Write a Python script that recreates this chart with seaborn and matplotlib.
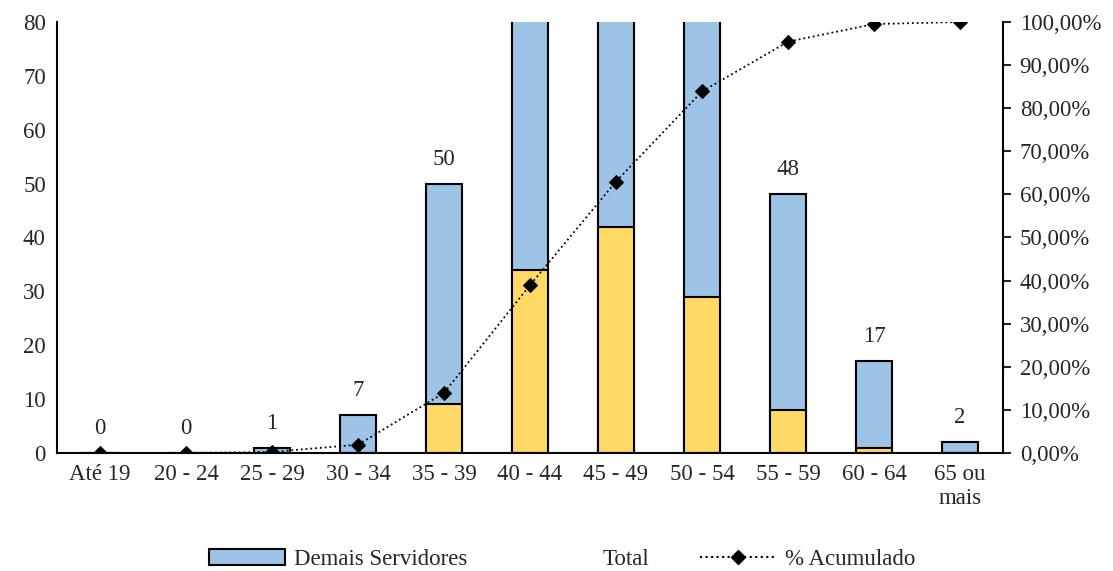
import numpy as np
import pandas as pd
import seaborn as sns
import matplotlib.pyplot as plt
from matplotlib.patches import Patch
from matplotlib.lines import Line2D
from matplotlib.ticker import FuncFormatter

# Dados
faixas = ['Até 19', '20 - 24', '25 - 29', '30 - 34', '35 - 39', '40 - 44',
          '45 - 49', '50 - 54', '55 - 59', '60 - 64', '65 ou\nmais']
total = [0, 0, 1, 7, 50, 104, 100, 87, 48, 17, 2]
amarelo = [0, 0, 0, 0, 9, 34, 42, 29, 8, 1, 0]
acumulado = [0.0, 0.0, 0.0024, 0.0192, 0.1394, 0.3894, 0.6298, 0.8389, 0.9543, 0.9952, 1.0]

cor_azul = '#9DC3E6'
cor_amarelo = '#FFD966'
fs = 16.5

sns.set_style('white')
plt.rcParams['font.family'] = ['Liberation Serif', 'DejaVu Serif']
plt.rcParams['font.size'] = fs

df = pd.DataFrame({'faixa': faixas, 'total': total, 'amarelo': amarelo, 'acum': acumulado})

fig = plt.figure(figsize=(11.13, 5.71), dpi=100)
ax = fig.add_axes([0.0512, 0.2067, 0.85, 0.7548])

sns.barplot(data=df, x='faixa', y='total', color=cor_azul, edgecolor='black',
            linewidth=1.5, width=0.42, saturation=1, ax=ax)
sns.barplot(data=df, x='faixa', y='amarelo', color=cor_amarelo, edgecolor='black',
            linewidth=1.5, width=0.42, saturation=1, ax=ax)

ax.set_ylim(0, 80)
ax.set_xlim(-0.5, 10.5)
ax.set_yticks(np.arange(0, 81, 10))
ax.set_xlabel('')
ax.set_ylabel('')
ax.tick_params(axis='both', length=0, labelsize=fs, pad=8)
for s in ['top', 'right']:
    ax.spines[s].set_visible(False)
ax.spines['left'].set_color('black')
ax.spines['bottom'].set_color('black')
ax.spines['left'].set_linewidth(1.5)
ax.spines['bottom'].set_linewidth(1.5)

# rótulos do total
for i, v in enumerate(total):
    if v <= 80:
        ax.annotate(str(v), (i, v), xytext=(0, 10), textcoords='offset points',
                    ha='center', va='bottom', fontsize=fs)

ax2 = ax.twinx()
sns.lineplot(x=np.arange(len(faixas)), y=df['acum'], color='black', linestyle=':',
             linewidth=1.3, marker='D', markersize=7, markeredgecolor='black', ax=ax2)
ax2.set_ylim(0, 1.0)
ax2.set_yticks(np.arange(0, 1.01, 0.1))
ax2.yaxis.set_major_formatter(FuncFormatter(lambda v, p: f'{v*100:.2f}%'.replace('.', ',')))
ax2.set_ylabel('')
ax2.tick_params(axis='y', length=6, width=1.5, direction='out', labelsize=fs, pad=6)
for s in ['top', 'left', 'bottom']:
    ax2.spines[s].set_visible(False)
ax2.spines['right'].set_color('black')
ax2.spines['right'].set_linewidth(1.5)
ax2.set_xlim(-0.5, 10.5)

handles = [
    Patch(facecolor=cor_azul, edgecolor='black', linewidth=1.5),
    Line2D([], [], color='none'),
    Line2D([], [], color='black', linestyle=':', marker='D', markersize=7),
]
fig.legend(handles, ['Demais Servidores', 'Total', '% Acumulado'], loc='lower center',
           bbox_to_anchor=(0.505, -0.035), ncol=3, frameon=False, fontsize=fs,
           handlelength=3.3, handletextpad=0.4, columnspacing=2.2)

fig.savefig('out.png', dpi=100)
